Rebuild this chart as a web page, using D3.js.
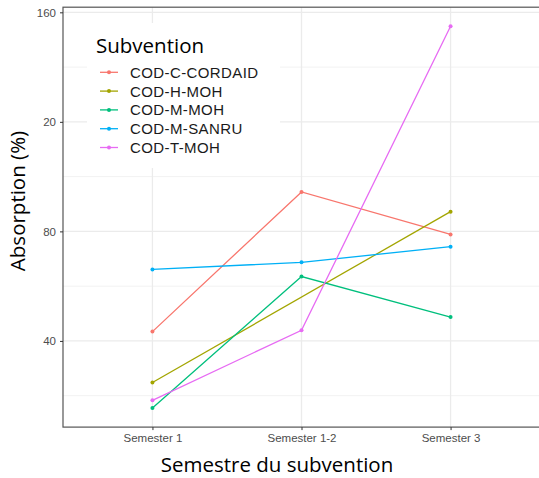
<!DOCTYPE html>
<html>
<head>
<meta charset="utf-8">
<script src="https://cdn.jsdelivr.net/npm/d3@7"></script>
<style>
  body { margin: 0; background: #fff; }
  svg { display: block; }
</style>
</head>
<body>
<svg id="chart" width="539" height="478"></svg>
<script>
// chart data
var semesters = ["Semester 1", "Semester 1-2", "Semester 3"];
var series_names = ["COD-C-CORDAID", "COD-H-MOH", "COD-M-MOH", "COD-M-SANRU", "COD-T-MOH"];
var series_colors = ["#F8766D", "#A3A500", "#00BF7D", "#00B0F6", "#E76BF3"];
var cordaid = [43.4, 94.4, 78.9];
var h_moh = [24.8, null, 87.2];
var m_moh = [15.5, 63.5, 48.7];
var m_sanru = [66.1, 68.7, 74.4];
var t_moh = [18.3, 43.9, 154.9];
var y_major = [40, 80, 120, 160];
var y_labels = ["40", "80", "20", "160"];
var y_minor = [20, 60, 100, 140];

var series_values = [cordaid, h_moh, m_moh, m_sanru, t_moh];

var svg = d3.select("#chart");

// panel edges
var p_left = 63, p_right = 540, p_top = 7.2, p_bottom = 427.1;

var x = d3.scalePoint()
          .domain(semesters)
          .range([p_left, p_right])
          .padding(0.6);

var y = d3.scaleLinear()
          .domain([8.53, 161.87])
          .range([p_bottom, p_top]);

var grid = svg.append("g");

// minor grid
grid.selectAll(".minor")
    .data(y_minor)
    .enter().append("line")
    .attr("x1", p_left).attr("x2", p_right)
    .attr("y1", function (d) { return y(d); })
    .attr("y2", function (d) { return y(d); })
    .attr("stroke", "#F2F2F2")
    .attr("stroke-width", 1);

// major grid
grid.selectAll(".major")
    .data(y_major)
    .enter().append("line")
    .attr("x1", p_left).attr("x2", p_right)
    .attr("y1", function (d) { return y(d); })
    .attr("y2", function (d) { return y(d); })
    .attr("stroke", "#EBEBEB")
    .attr("stroke-width", 1.3);

grid.selectAll(".vmajor")
    .data(semesters)
    .enter().append("line")
    .attr("y1", p_top).attr("y2", p_bottom)
    .attr("x1", function (d) { return x(d); })
    .attr("x2", function (d) { return x(d); })
    .attr("stroke", "#EBEBEB")
    .attr("stroke-width", 1.3);

// lines and points
var line = d3.line()
             .x(function (d) { return x(d.s); })
             .y(function (d) { return y(d.v); });

series_values.forEach(function (vals, i) {
  var pts = [];
  vals.forEach(function (v, j) {
    if (v !== null) pts.push({ s: semesters[j], v: v });
  });
  svg.append("path")
     .attr("d", line(pts))
     .attr("fill", "none")
     .attr("stroke", series_colors[i])
     .attr("stroke-width", 1.3);
  svg.selectAll(".pt" + i)
     .data(pts)
     .enter().append("circle")
     .attr("cx", function (d) { return x(d.s); })
     .attr("cy", function (d) { return y(d.v); })
     .attr("r", 2)
     .attr("fill", series_colors[i]);
});

// panel border
svg.append("rect")
   .attr("x", p_left).attr("y", p_top)
   .attr("width", p_right - p_left).attr("height", p_bottom - p_top)
   .attr("fill", "none")
   .attr("stroke", "#555")
   .attr("stroke-width", 1.2);

// axes
var yAxis = d3.axisLeft(y)
              .tickValues(y_major)
              .tickSize(3)
              .tickPadding(4)
              .tickFormat(function (d, i) { return y_labels[i]; });
var gy = svg.append("g")
            .attr("transform", "translate(" + p_left + ",0)")
            .call(yAxis);
gy.select(".domain").remove();
gy.selectAll(".tick line").attr("stroke", "#333");
gy.selectAll(".tick text")
  .attr("fill", "#4D4D4D")
  .style("font-family", "Liberation Sans, Arial, sans-serif")
  .style("font-size", "11.5px");

var xAxis = d3.axisBottom(x)
              .tickSize(3)
              .tickPadding(4);
var gx = svg.append("g")
            .attr("transform", "translate(0," + p_bottom + ")")
            .call(xAxis);
gx.select(".domain").remove();
gx.selectAll(".tick line").attr("stroke", "#333");
gx.selectAll(".tick text")
  .attr("fill", "#4D4D4D")
  .style("font-family", "Liberation Sans, Arial, sans-serif")
  .style("font-size", "11.5px");

// axis titles
svg.append("text")
   .attr("x", 277)
   .attr("y", 472)
   .attr("text-anchor", "middle")
   .style("font-family", "Open Sans, sans-serif")
   .style("font-size", "20.5px")
   .attr("fill", "#000")
   .text("Semestre du subvention");

svg.append("text")
   .attr("transform", "translate(25,201) rotate(-90)")
   .attr("text-anchor", "middle")
   .style("font-family", "Open Sans, sans-serif")
   .style("font-size", "20.5px")
   .attr("fill", "#000")
   .text("Absorption (%)");

// legend
var legend = svg.append("g");
legend.append("rect")
      .attr("x", 87).attr("y", 23)
      .attr("width", 193).attr("height", 145)
      .attr("fill", "#fff");
legend.append("text")
      .attr("x", 96)
      .attr("y", 53)
      .style("font-family", "Open Sans, sans-serif")
      .style("font-size", "20.5px")
      .text("Subvention");

series_names.forEach(function (name, i) {
  var cy = 72.3 + i * 18.8;
  legend.append("line")
        .attr("x1", 100).attr("x2", 118)
        .attr("y1", cy).attr("y2", cy)
        .attr("stroke", series_colors[i])
        .attr("stroke-width", 1.3);
  legend.append("circle")
        .attr("cx", 109).attr("cy", cy).attr("r", 2)
        .attr("fill", series_colors[i]);
  legend.append("text")
        .attr("x", 130)
        .attr("y", cy + 5.5)
        .style("font-family", "Liberation Sans, Arial, sans-serif")
        .style("font-size", "15px")
        .style("letter-spacing", "0.4px")
        .attr("fill", "#1a1a1a")
        .text(name);
});
</script>
</body>
</html>
